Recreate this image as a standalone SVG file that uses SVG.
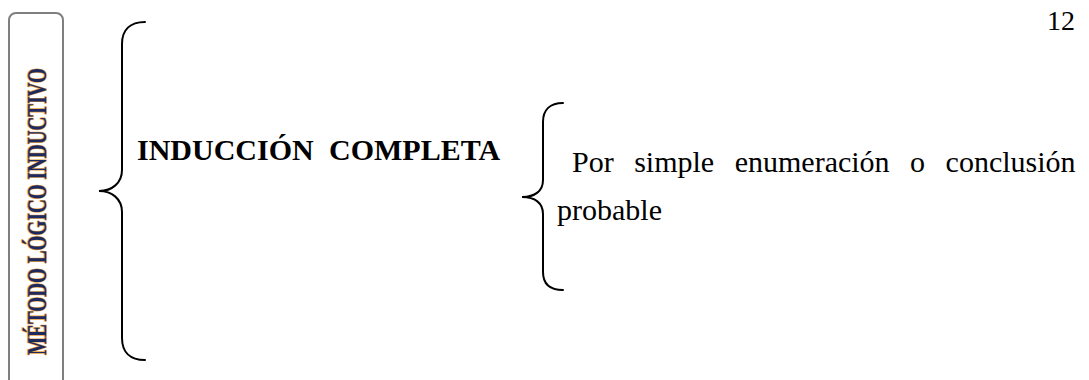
<svg xmlns="http://www.w3.org/2000/svg" width="1089" height="380" viewBox="0 0 1089 380">
<style>
.brace{fill:none;stroke:#000;stroke-width:2;stroke-linecap:round}
.t{font-family:"Liberation Serif","Times New Roman",serif;font-size:30px;fill:#000}
.b{font-weight:bold}
.vt{font-family:"Liberation Serif","Times New Roman",serif;font-weight:bold;font-size:27px}
</style>
<rect width="1089" height="380" fill="#fff"/>
<g id="titleBox">
<rect x="9" y="13" width="54" height="400" rx="7" fill="#fff" stroke="#7f7f7f" stroke-width="2"/>
<g transform="translate(46,211.5) rotate(-90)">
<text class="vt" x="0" y="0" text-anchor="middle" textLength="287" lengthAdjust="spacingAndGlyphs" fill="none" stroke="#e8a040" stroke-width="1.6" stroke-linejoin="round">MÉTODO LÓGICO INDUCTIVO</text>
<text class="vt" x="0" y="0" text-anchor="middle" textLength="287" lengthAdjust="spacingAndGlyphs" fill="#1c2a5e">MÉTODO LÓGICO INDUCTIVO</text>
</g>
</g>
<g id="connectors">
<path class="brace" d="M145,22 C130,22 122,30 122,44 L122,170 C122,183 112,191 99,191 C112,191 122,199 122,212 L122,338 C122,352 130,360 145,360"/>
<path class="brace" d="M563,103 C550,103 543,110 543,122 L543,180 C543,191 535,197 522,197 C535,197 543,203 543,214 L543,272 C543,284 550,290 563,290"/>
</g>
<g id="induccion">
<text class="t b" x="137" y="160">INDUCCIÓN</text>
<text class="t b" x="329" y="160">COMPLETA</text>
</g>
<g id="enumeracion">
<text class="t" x="572" y="172" word-spacing="13">Por simple enumeración o conclusión</text>
<text class="t" x="557" y="220">probable</text>
</g>
<g id="pageNumber">
<text class="t" x="1075" y="30" text-anchor="end" style="font-size:28px">12</text>
</g>
</svg>
